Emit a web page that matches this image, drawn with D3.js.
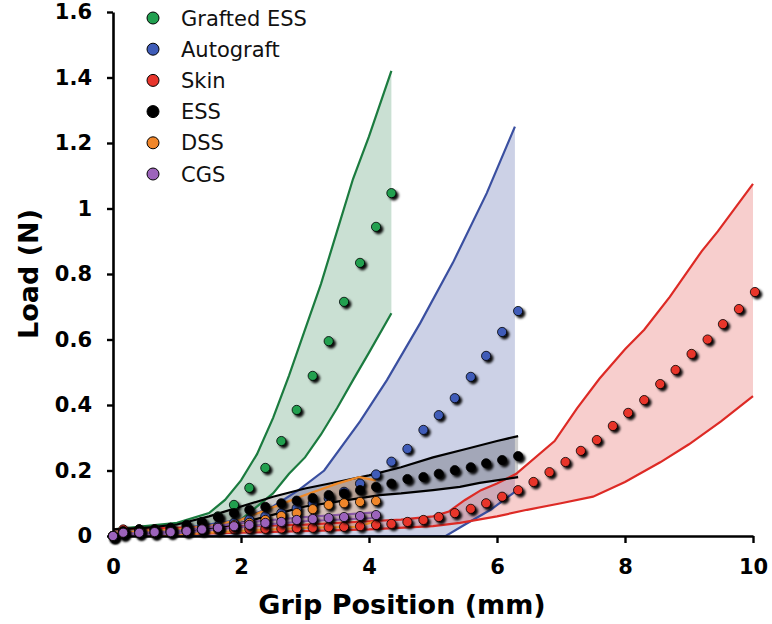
<!DOCTYPE html>
<html>
<head>
<meta charset="utf-8">
<script src="https://cdn.jsdelivr.net/npm/d3@7"></script>
<style>
  body { margin: 0; background: #fff; }
  svg { display: block; font-family: "DejaVu Sans", Verdana, sans-serif; }
</style>
</head>
<body>
<div id="container"></div>
<script>
// grip positions (mm) shared by all samples
const grip = [0, 0.16, 0.41, 0.65, 0.9, 1.15, 1.39, 1.64, 1.89, 2.13, 2.38, 2.63, 2.87, 3.12, 3.37, 3.61, 3.86, 4.11,
  4.35, 4.6, 4.85, 5.09, 5.34, 5.59, 5.83, 6.08, 6.33, 6.57, 6.82, 7.07, 7.31, 7.56, 7.81, 8.05, 8.3, 8.55, 8.79,
  9.04, 9.29, 9.53, 9.78, 10.03];

// mean load (N)
const graftedMean = [0, 0.015, 0.02, 0.02, 0.025, 0.03, 0.04, 0.06, 0.095, 0.147, 0.208, 0.29, 0.385, 0.489, 0.595, 0.715, 0.834, 0.944, 1.047];
const autograftMean = [0, 0.005, 0.01, 0.01, 0.015, 0.02, 0.025, 0.03, 0.04, 0.05, 0.06, 0.07, 0.085, 0.1, 0.115, 0.135, 0.16, 0.188, 0.227, 0.266, 0.324, 0.369, 0.421, 0.486, 0.55, 0.623, 0.687];
const skinMean = [0, 0.02, 0.02, 0.02, 0.02, 0.02, 0.02, 0.021, 0.021, 0.022, 0.022, 0.023, 0.024, 0.025, 0.027, 0.028, 0.03, 0.034, 0.037, 0.043, 0.049, 0.058, 0.07, 0.083, 0.1, 0.12, 0.14, 0.165, 0.195, 0.226, 0.26, 0.293, 0.336, 0.376, 0.415, 0.464, 0.507, 0.556, 0.6, 0.647, 0.693, 0.745];
const essMean = [0, 0.015, 0.02, 0.02, 0.025, 0.034, 0.043, 0.058, 0.07, 0.08, 0.089, 0.1, 0.108, 0.116, 0.125, 0.13, 0.14, 0.15, 0.16, 0.174, 0.18, 0.19, 0.201, 0.21, 0.222, 0.232, 0.244];
const dssMean = [0, 0.008, 0.01, 0.01, 0.012, 0.015, 0.02, 0.025, 0.033, 0.04, 0.049, 0.061, 0.07, 0.082, 0.095, 0.1, 0.104, 0.107];
const cgsMean = [0, 0.01, 0.01, 0.012, 0.012, 0.015, 0.02, 0.025, 0.03, 0.034, 0.04, 0.043, 0.049, 0.052, 0.055, 0.058, 0.061, 0.064];

// band edges [grip, load]
const graftedUpper = [[0, 0.02], [0.5, 0.03], [1, 0.04], [1.5, 0.07], [1.75, 0.11], [2, 0.17], [2.25, 0.25], [2.5, 0.36], [2.75, 0.49], [3, 0.63], [3.25, 0.77], [3.5, 0.93], [3.75, 1.09], [4, 1.22], [4.35, 1.42]];
const graftedLower = [[0, 0], [1, 0.01], [1.5, 0.02], [2, 0.05], [2.5, 0.13], [2.75, 0.19], [3, 0.24], [3.25, 0.31], [3.5, 0.39], [3.75, 0.476], [4, 0.56], [4.35, 0.68]];
const autograftUpper = [[0, 0.01], [1, 0.02], [2, 0.05], [2.5, 0.09], [2.9, 0.14], [3.3, 0.2], [3.86, 0.35], [4.28, 0.476], [4.8, 0.65], [5.31, 0.834], [5.84, 1.047], [6.28, 1.25]];
const autograftLower = [[0, 0], [5.2, 0], [5.5, 0.035], [5.9, 0.08], [6.28, 0.135]];
const skinUpper = [[0, 0.02], [2, 0.03], [3, 0.035], [4, 0.045], [4.5, 0.05], [5, 0.06], [5.25, 0.075], [5.5, 0.11], [5.75, 0.14], [6, 0.16], [6.3, 0.19], [6.9, 0.29], [7.25, 0.39], [7.6, 0.48], [8, 0.57], [8.3, 0.63], [8.7, 0.73], [9.2, 0.87], [9.45, 0.93], [10, 1.075]];
const skinLower = [[0, 0], [2, 0.01], [4, 0.02], [5, 0.03], [5.42, 0.04], [6, 0.06], [6.47, 0.08], [7, 0.1], [7.5, 0.12], [8, 0.165], [8.55, 0.225], [9, 0.28], [9.5, 0.35], [10, 0.427]];
const essUpper = [[0, 0.02], [0.5, 0.025], [1, 0.035], [1.5, 0.06], [2, 0.09], [2.5, 0.12], [3, 0.145], [3.5, 0.165], [4, 0.185], [4.5, 0.21], [5, 0.24], [5.5, 0.265], [6, 0.29], [6.33, 0.305]];
const essLower = [[0, 0], [1, 0.01], [1.5, 0.02], [2, 0.04], [2.6, 0.07], [3, 0.09], [3.5, 0.105], [4.17, 0.125], [4.5, 0.13], [5, 0.14], [5.42, 0.15], [5.73, 0.162], [6.33, 0.18]];
const dssUpper = [[0, 0.01], [1, 0.02], [1.5, 0.03], [2, 0.05], [2.6, 0.095], [3, 0.125], [3.5, 0.16], [3.85, 0.18], [4.11, 0.17]];
const dssLower = [[0, 0], [1, 0.005], [2, 0.015], [3, 0.025], [3.8, 0.028], [4.11, 0.045]];
const cgsUpper = [[0, 0.005], [1, 0.015], [2, 0.04], [3, 0.058], [4.11, 0.072]];
const cgsLower = [[0, 0], [1, 0.008], [2, 0.028], [3, 0.045], [4.11, 0.055]];

const names = ["Grafted ESS", "Autograft", "Skin", "ESS", "DSS", "CGS"];
const yTicks = [0, 0.2, 0.4, 0.6, 0.8, 1, 1.2, 1.4, 1.6];
const xTicks = [0, 2, 4, 6, 8, 10];

const series = [
  { mean: graftedMean, upper: graftedUpper, lower: graftedLower, line: "#1b7b3f", dot: "#22a050", fillOp: 0.23 },
  { mean: autograftMean, upper: autograftUpper, lower: autograftLower, line: "#3a4fa0", dot: "#3f5cb8", fillOp: 0.26 },
  { mean: skinMean, upper: skinUpper, lower: skinLower, line: "#dd2a25", dot: "#e8352c", fillOp: 0.23 },
  { mean: essMean, upper: essUpper, lower: essLower, line: "#000000", dot: "#000000", fillOp: 0.2 },
  { mean: dssMean, upper: dssUpper, lower: dssLower, line: "#f08a28", dot: "#f0862a", fillOp: 0.25 },
  { mean: cgsMean, upper: cgsUpper, lower: cgsLower, line: "#8c5aa8", dot: "#9c64bb", fillOp: 0.3 }
];

const width = 772, height = 624;
const svg = d3.select("#container").append("svg").attr("width", width).attr("height", height);

const x = d3.scaleLinear().domain([0, 10]).range([113, 753]);
const y = d3.scaleLinear().domain([0, 1.6]).range([536, 12]);

const defs = svg.append("defs");
const shadow = defs.append("filter").attr("id", "shadow")
  .attr("x", "-60%").attr("y", "-60%").attr("width", "220%").attr("height", "220%");
shadow.append("feDropShadow").attr("dx", 2.4).attr("dy", 2.4).attr("stdDeviation", 1)
  .attr("flood-color", "#000").attr("flood-opacity", 0.95);

const line = d3.line().x(d => x(d[0])).y(d => y(d[1]));

// bands
svg.append("g").selectAll("path").data(series).join("path")
  .attr("d", s => line(s.upper.concat(s.lower.slice().reverse())) + "Z")
  .attr("fill", s => s.line)
  .attr("fill-opacity", s => s.fillOp)
  .attr("stroke", "none");

// band edges
series.forEach(s => {
  [s.upper, s.lower].forEach(edge => {
    svg.append("path").attr("d", line(edge))
      .attr("fill", "none").attr("stroke", s.line).attr("stroke-width", 2.2);
  });
});

// axes
const yAxis = svg.append("g").attr("transform", `translate(${x(0)},0)`)
  .call(d3.axisLeft(y).tickValues(yTicks).tickSize(6).tickSizeOuter(0).tickPadding(15)
    .tickFormat(d => String(+d.toFixed(1))));
const xAxis = svg.append("g").attr("transform", `translate(0,${y(0)})`)
  .call(d3.axisBottom(x).tickValues(xTicks).tickSize(7).tickSizeOuter(0).tickPadding(16));
[yAxis, xAxis].forEach(a => {
  a.select(".domain").attr("stroke", "#000").attr("stroke-width", 2.6);
  a.selectAll(".tick line").attr("stroke", "#000").attr("stroke-width", 2.4);
  a.selectAll(".tick text").attr("fill", "#000")
    .style("font-family", '"DejaVu Sans", Verdana, sans-serif')
    .style("font-size", "21px").style("font-weight", "bold");
});

// mean points
series.forEach(s => {
  svg.append("g").selectAll("circle").data(s.mean).join("circle")
    .attr("cx", (d, i) => x(grip[i]))
    .attr("cy", d => y(d))
    .attr("r", 4.6)
    .attr("fill", s.dot)
    .attr("stroke", "#000").attr("stroke-width", 0.8)
    .attr("filter", "url(#shadow)");
});

// axis titles
svg.append("text").attr("x", 402).attr("y", 614)
  .attr("text-anchor", "middle").style("font-size", "27px").style("font-weight", "bold")
  .text("Grip Position (mm)");
svg.append("text").attr("transform", `translate(38,${(y(0) + y(1.6)) / 2}) rotate(-90)`)
  .attr("text-anchor", "middle").style("font-size", "27px").style("font-weight", "bold")
  .text("Load (N)");

// legend
const legend = svg.append("g").selectAll("g").data(names).join("g")
  .attr("transform", (d, i) => `translate(153,${18 + i * 31.2})`);
legend.append("circle").attr("r", 6)
  .attr("fill", (d, i) => series[i].dot).attr("stroke", "#000").attr("stroke-width", 1);
legend.append("text").attr("x", 28).attr("dy", "0.36em")
  .style("font-size", "21px").attr("fill", "#111")
  .text(d => d);
</script>
</body>
</html>
